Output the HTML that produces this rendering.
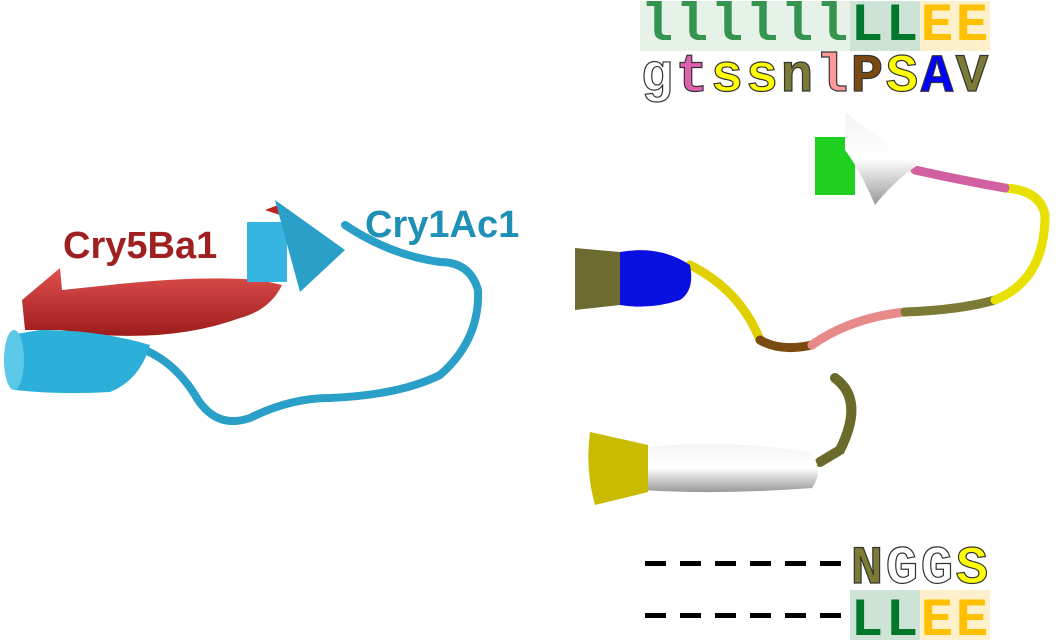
<!DOCTYPE html>
<html><head><meta charset="utf-8"><style>
html,body{margin:0;padding:0;background:#fff;width:1060px;height:641px;overflow:hidden}
svg{display:block}
.m{font-family:"Liberation Mono",monospace;font-weight:bold;font-size:54px;text-anchor:middle}
.lbl{font-family:"Liberation Sans",sans-serif;font-weight:bold;font-size:38px}
</style></head><body>
<svg width="1060" height="641" viewBox="0 0 1060 641">
<defs>
<linearGradient id="rg" x1="0" y1="0" x2="0" y2="1"><stop offset="0" stop-color="#e05050"/><stop offset="1" stop-color="#9e1c1c"/></linearGradient>
<linearGradient id="wg" x1="0" y1="0" x2="0" y2="1"><stop offset="0" stop-color="#f4f4f4"/><stop offset="0.5" stop-color="#fff"/><stop offset="1" stop-color="#999"/></linearGradient>
</defs>
<g>
<path d="M60,268 L62,290 L110,285 Q200,275 260,280 L282,285 Q270,310 240,318 Q180,340 100,335 L60,330 L25,330 L22,300 Z" fill="url(#rg)"/>
<path d="M265,210 L278,205 L280,215 Z" fill="#c02020"/>
</g>
<g fill="none" stroke="#2a9fc8" stroke-width="8" stroke-linecap="round">
<path d="M130,345 Q170,355 195,395 Q215,430 250,418 Q290,398 330,398 Q400,395 440,375 Q480,340 478,290 Q470,262 440,262 Q390,255 345,225"/>
</g>
<g>
<path d="M10,335 L40,330 Q100,330 150,345 Q140,380 110,392 Q60,395 15,390 Z" fill="#2cb0da"/>
<ellipse cx="14" cy="360" rx="10" ry="30" fill="#5cc8ea"/>
<rect x="247" y="222" width="40" height="60" fill="#35b5df"/>
<path d="M275,200 L345,250 L300,292 Z" fill="#2aa0c8"/>
</g>
<text class="lbl" x="63" y="258" fill="#9e2020">Cry5Ba1</text>
<text class="lbl" x="365" y="237" fill="#1e8fb5">Cry1Ac1</text>
<g fill="none" stroke-width="9" stroke-linecap="round">
<path d="M690,265 Q740,290 760,340" stroke="#e0d000"/>
<path d="M760,340 Q780,352 812,345" stroke="#7a4a10"/>
<path d="M812,345 Q850,318 905,312" stroke="#e88a8a"/>
<path d="M905,312 Q960,310 995,300" stroke="#7d7a35"/>
<path d="M995,300 Q1045,280 1045,215 Q1040,190 1005,188" stroke="#e8e000"/>
<path d="M1005,188 Q960,180 915,170" stroke="#d060a0"/>
<path d="M835,378 Q865,400 840,450 L820,462" stroke="#6b6a2a" stroke-width="10"/>
</g>
<g>
<path d="M575,248 L620,252 L620,305 L575,310 Z" fill="#6e6b30"/>
<path d="M620,252 Q660,245 690,265 Q695,290 680,300 Q650,310 620,305 Z" fill="#0a10e0"/>
<rect x="815" y="137" width="40" height="58" fill="#20d020"/>
<path d="M845,112 Q880,140 918,165 Q895,180 875,205 Q860,170 845,150 Z" fill="url(#wg)"/>
</g>
<g>
<path d="M640,448 Q720,438 810,452 Q825,470 812,488 Q720,495 640,490 Z" fill="url(#wg)"/>
<path d="M590,432 L648,445 L648,492 L595,505 Q585,470 590,432 Z" fill="#c8bb00"/>
</g>
<g>
<rect x="640" y="1" width="210" height="50" fill="#e6f1e8"/>
<rect x="850" y="1" width="70" height="50" fill="#cce3d5"/>
<rect x="920" y="1" width="70" height="50" fill="#fff0cc"/>
<text class="m" y="40"><tspan x="657" fill="#35944f">l</tspan><tspan x="692" fill="#35944f">l</tspan><tspan x="727" fill="#35944f">l</tspan><tspan x="762" fill="#35944f">l</tspan><tspan x="797" fill="#35944f">l</tspan><tspan x="832" fill="#35944f">l</tspan><tspan x="867" fill="#00772a">L</tspan><tspan x="902" fill="#00772a">L</tspan><tspan x="937" fill="#ffc000">E</tspan><tspan x="972" fill="#ffc000">E</tspan></text>
</g>
<g>
<text class="m" y="91" stroke="#333" stroke-width="1.2"><tspan x="657" fill="#fff">g</tspan><tspan x="692" fill="#e060b0">t</tspan><tspan x="727" fill="#ffff00">s</tspan><tspan x="762" fill="#ffff00">s</tspan><tspan x="797" fill="#7d7a35">n</tspan><tspan x="832" fill="#ff9999">l</tspan><tspan x="867" fill="#7a4a10">P</tspan><tspan x="902" fill="#ffff00">S</tspan><tspan x="937" fill="#0000ff">A</tspan><tspan x="972" fill="#7d7a35">V</tspan></text>
</g>
<g fill="#000">
<rect x="645" y="561" width="21" height="5"/><rect x="680" y="561" width="21" height="5"/><rect x="715" y="561" width="21" height="5"/><rect x="750" y="561" width="21" height="5"/><rect x="785" y="561" width="21" height="5"/><rect x="820" y="561" width="21" height="5"/>
</g>
<g>
<text class="m" y="583" stroke="#333" stroke-width="1.2"><tspan x="867" fill="#7d7a35">N</tspan><tspan x="902" fill="#fff">G</tspan><tspan x="937" fill="#fff">G</tspan><tspan x="972" fill="#ffff00">S</tspan></text>
</g>
<g fill="#000">
<rect x="645" y="613" width="21" height="5"/><rect x="680" y="613" width="21" height="5"/><rect x="715" y="613" width="21" height="5"/><rect x="750" y="613" width="21" height="5"/><rect x="785" y="613" width="21" height="5"/><rect x="820" y="613" width="21" height="5"/>
</g>
<g>
<rect x="850" y="590" width="70" height="50" fill="#cce3d5"/>
<rect x="920" y="590" width="70" height="50" fill="#fff0cc"/>
<text class="m" y="635"><tspan x="867" fill="#00772a">L</tspan><tspan x="902" fill="#00772a">L</tspan><tspan x="937" fill="#ffc000">E</tspan><tspan x="972" fill="#ffc000">E</tspan></text>
</g>
</svg>
</body></html>
